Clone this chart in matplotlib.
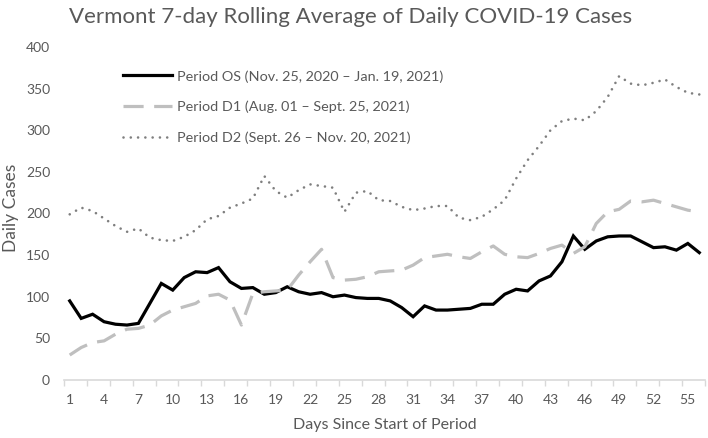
import matplotlib
matplotlib.use("Agg")
import matplotlib.pyplot as plt
import numpy as np

# dni od początku okresu
days = np.arange(1, 57)

period_os = [95, 74, 79, 70, 67, 66, 68, 92, 116, 108,
             123, 130, 129, 135, 118, 110, 111, 103, 105, 112,
             106, 103, 105, 100, 102, 99, 98, 98, 95, 87,
             76, 89, 84, 84, 85, 86, 91, 91, 103, 109,
             107, 119, 125, 142, 173, 157, 167, 172, 173, 173,
             166, 159, 160, 156, 164, 153]

period_d1 = [30, 39, 45, 47, 55, 61, 62, 66, 77, 84,
             88, 92, 101, 103, 96, 66, 104, 106, 107, 108,
             126, 142, 157, 123, 120, 121, 124, 130, 131, 132,
             138, 147, 149, 151, 148, 146, 154, 161, 151, 148,
             147, 152, 158, 162, 152, 160, 188, 202, 205, 215,
             214, 216, 212, 208, 204, 202]

period_d2 = [199, 207, 203, 194, 185, 178, 182, 171, 168, 167,
             172, 180, 193, 197, 207, 212, 218, 245, 227, 219,
             228, 235, 233, 231, 202, 225, 227, 216, 215, 208,
             204, 206, 209, 209, 195, 192, 196, 205, 216, 242,
             264, 281, 300, 311, 314, 312, 323, 340, 365, 356,
             354, 357, 361, 352, 345, 343]

labels = ["Period OS (Nov. 25, 2020 \u2013 Jan. 19, 2021)",
          "Period D1 (Aug. 01 \u2013 Sept. 25, 2021)",
          "Period D2 (Sept. 26 \u2013 Nov. 20, 2021)"]

xtick_days = np.arange(1, 57, 3)
yticks = np.arange(0, 401, 50)

plt.rcParams['font.family'] = ['Lato', 'DejaVu Sans']
txt = '#595959'

fig = plt.figure(figsize=(7.08, 4.38), dpi=100)
ax = fig.add_axes([64 / 708, 1 - 380 / 438, (705 - 64) / 708, (380 - 47) / 438])

ax.plot(days, period_os, color='black', lw=2.3, solid_joinstyle='miter', label=labels[0])
ax.plot(days, period_d1, color='#BFBFBF', lw=2.3, dashes=(6.3, 3.3), label=labels[1])
ax.plot(days, period_d2, color='#7F7F7F', lw=1.9, dashes=(0.01, 2.75),
        dash_capstyle='round', label=labels[2])

ax.set_xlim(0.5, 56.5)
ax.set_ylim(0, 400)
ax.set_xticks(xtick_days)
ax.set_xticks(np.arange(0.5, 57, 2), minor=True)
ax.set_yticks(yticks)
ax.tick_params(axis='x', which='major', length=0, pad=10, labelsize=10, labelcolor=txt)
ax.tick_params(axis='x', which='minor', length=4, color='#D9D9D9', width=1)
ax.tick_params(axis='y', length=0, pad=10, labelsize=10, labelcolor=txt)

for s in ['top', 'right', 'left']:
    ax.spines[s].set_visible(False)
ax.spines['bottom'].set_color('#D9D9D9')
ax.spines['bottom'].set_linewidth(1.2)

ax.set_xlabel("Days Since Start of Period", fontsize=11.5, color=txt, labelpad=9)
fig.text(11 / 708, 1 - 208 / 438, "Daily Cases", rotation=90,
         ha='center', va='center', fontsize=12.5, color=txt)
fig.text(351 / 708, 1 - 17 / 438, "Vermont 7-day Rolling Average of Daily COVID-19 Cases",
         ha='center', va='center', fontsize=16, color=txt)

leg = ax.legend(loc='upper left', bbox_to_anchor=(123 / 708, 1 - 70 / 438),
                bbox_transform=fig.transFigure, frameon=False, fontsize=10.4,
                handlelength=3.4, handletextpad=0.35, labelspacing=1.25,
                borderpad=0, borderaxespad=0)
for t in leg.get_texts():
    t.set_color(txt)

fig.savefig("out.png", dpi=100)
